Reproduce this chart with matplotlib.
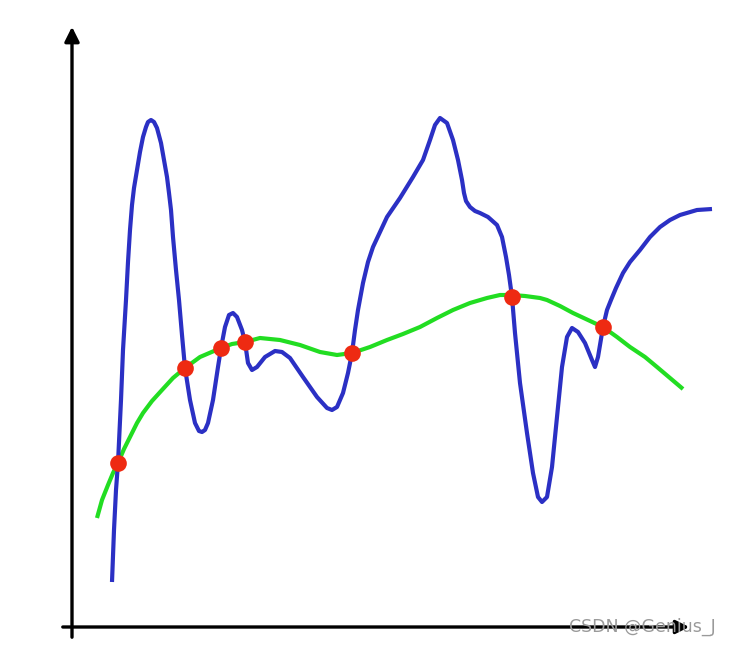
import matplotlib.pyplot as plt

# 蓝色曲线（像素坐标，y向下）
blue_x = [112, 114, 116, 118, 121, 123, 126, 128, 130, 132, 134, 137, 140, 143, 146, 148, 151, 154, 157, 161,
          164, 167, 169, 171, 173, 176, 179, 182, 185, 190, 195, 199, 202, 205, 208, 213, 218, 221, 225, 229,
          233, 237, 242, 245, 248, 252, 257, 265, 275, 282, 290, 303, 317, 327, 332, 337, 343, 348, 352, 355,
          358, 363, 368, 373, 380, 387, 400, 413, 423, 430, 435, 440, 447, 453, 458, 462, 464, 466, 470, 475,
          480, 488, 497, 502, 506, 509, 512, 515, 520, 527, 533, 538, 542, 547, 552, 557, 562, 567, 572, 578,
          585, 592, 595, 598, 602, 603, 607, 611, 616, 623, 630, 640, 650, 660, 670, 680, 697, 712]
blue_y = [582, 530, 490, 463, 400, 350, 300, 262, 230, 205, 188, 170, 152, 137, 127, 122, 120, 122, 128, 143,
          160, 177, 193, 210, 237, 270, 300, 335, 368, 400, 423, 431, 432, 430, 423, 400, 367, 348, 327, 315,
          313, 317, 330, 342, 363, 370, 367, 357, 351, 352, 358, 377, 397, 408, 410, 407, 393, 373, 353, 330,
          310, 283, 262, 247, 232, 217, 198, 177, 160, 140, 125, 118, 123, 140, 160, 180, 193, 201, 207, 211,
          213, 217, 225, 237, 257, 275, 297, 333, 383, 433, 473, 497, 502, 497, 467, 417, 367, 337, 328, 332,
          343, 360, 367, 357, 333, 327, 310, 300, 288, 273, 262, 250, 237, 227, 220, 215, 210, 209]

# 绿色曲线
green_x = [97, 102, 108, 113, 118, 124, 130, 137, 143, 152, 162, 173, 185, 200, 221, 232, 245, 260, 280, 300,
           320, 337, 352, 370, 387, 403, 420, 437, 453, 470, 487, 500, 512, 525, 540, 547, 560, 573, 588, 603,
           617, 630, 645, 657, 670, 683]
green_y = [518, 500, 485, 473, 463, 449, 437, 423, 413, 401, 390, 378, 368, 357, 348, 344, 342, 338, 340, 345,
           352, 355, 353, 347, 340, 334, 327, 318, 310, 303, 298, 295, 295, 296, 298, 300, 306, 313, 320, 327,
           337, 347, 357, 367, 378, 389]

# 交点
dot_x = [118, 185, 221, 245, 352, 512, 603]
dot_y = [463, 368, 348, 342, 353, 297, 327]

fig = plt.figure(figsize=(7.3, 6.46), dpi=100)
ax = fig.add_axes([0, 0, 1, 1])
ax.set_xlim(0, 730)
ax.set_ylim(646, 0)
ax.axis('off')

# 坐标轴箭头
ax.annotate('', xy=(72, 24), xytext=(72, 640),
            arrowprops=dict(arrowstyle='-|>', lw=2.4, color='black', mutation_scale=22))
ax.annotate('', xy=(692, 627), xytext=(60, 627),
            arrowprops=dict(arrowstyle='-|>', lw=2.4, color='black', mutation_scale=20))

ax.plot(blue_x, blue_y, color='#2b30c4', lw=3.0, solid_joinstyle='round', solid_capstyle='butt', zorder=3)
ax.plot(green_x, green_y, color='#22dd22', lw=3.0, solid_joinstyle='round', solid_capstyle='butt', zorder=2)
ax.plot(dot_x, dot_y, 'o', color='#ee2a12', ms=12, mec='none', zorder=4)

ax.text(716, 627, 'CSDN @Genius_J', ha='right', va='center', fontsize=12.5, color='#9a9a9a', zorder=5)

fig.savefig('out.png', dpi=100)
